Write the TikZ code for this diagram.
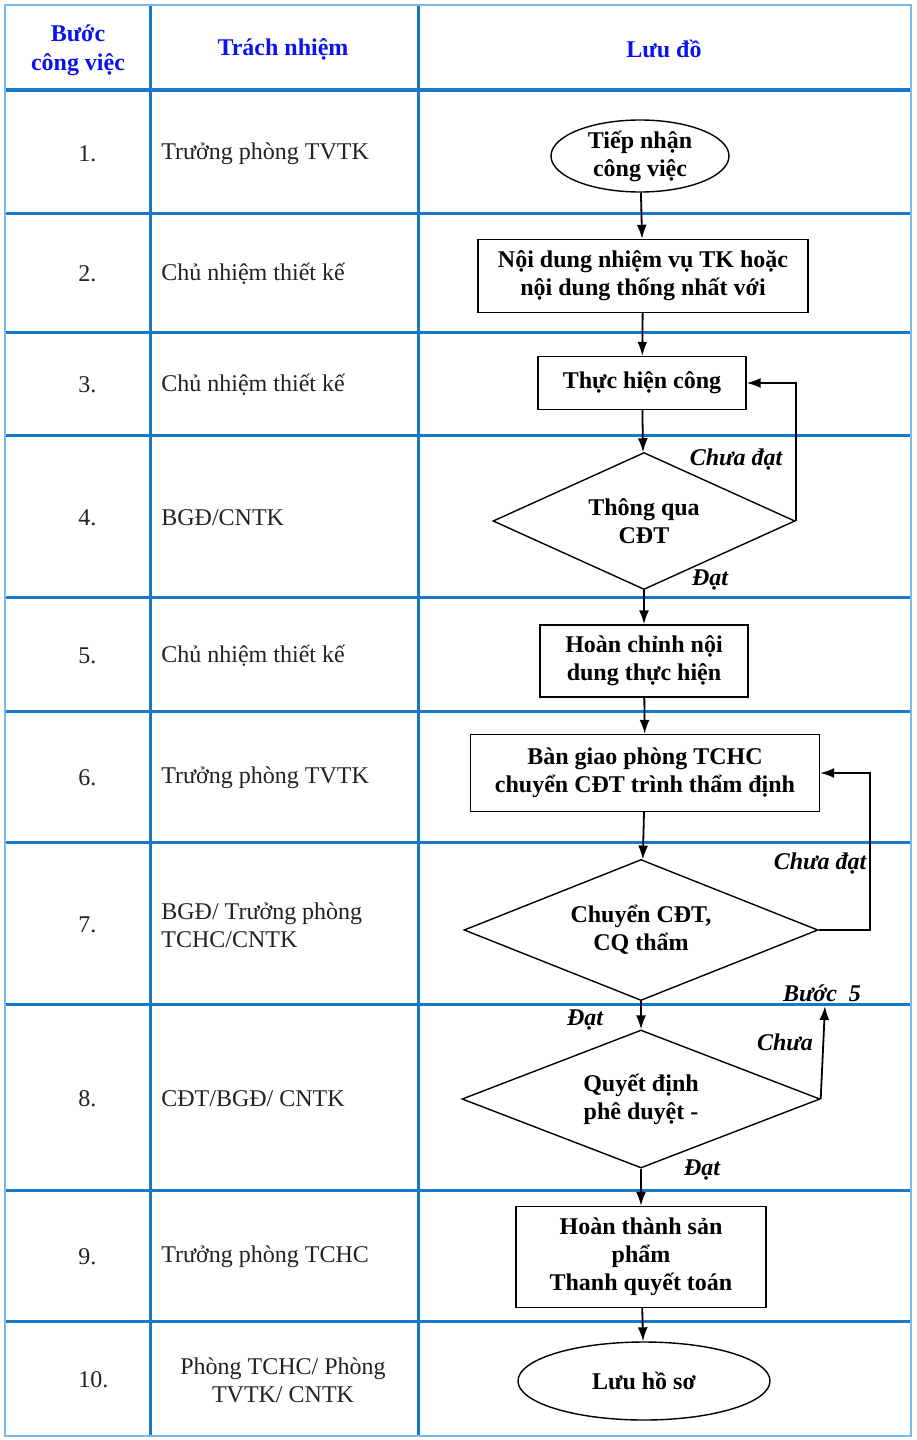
\documentclass[tikz,border=0pt]{standalone}
\usepackage{fontspec}
\setmainfont{Liberation Serif}
\usetikzlibrary{shapes.geometric,arrows.meta}
\definecolor{gridblue}{HTML}{1A78C8}
\definecolor{edgeblue}{HTML}{7DB9E8}
\definecolor{headblue}{HTML}{0A14F0}
\definecolor{bodygray}{HTML}{222222}

\begin{document}
\begin{tikzpicture}[x=0.5pt,y=-0.5pt,
        font=\fontsize{12}{14}\selectfont,
        grid/.style = {gridblue, line width=1.5pt},
        head/.style = {headblue, font=\fontsize{12}{14}\selectfont\bfseries, align=center},
        num/.style = {bodygray, anchor=west, inner sep=0pt},
        duty/.style = {bodygray, anchor=west, inner sep=0pt, align=left},
        box/.style = {draw, line width=0.7pt, inner sep=0pt, align=center, font=\fontsize{12}{14}\selectfont\bfseries},
        term/.style = {box, ellipse},
        proc/.style = {box, rectangle},
        decide/.style = {box, diamond, aspect=2.4},
        arr/.style = {-{Latex[length=7pt,width=5pt]}, line width=0.9pt},
        note/.style = {font=\fontsize{12}{14}\selectfont\bfseries\itshape, inner sep=0pt}]
        \useasboundingbox (0,0) rectangle (916,1440);
        \fill[white] (0,0) rectangle (916,1440);
        % table
        \draw[grid] (150,5) -- (150,1436);
        \draw[grid] (418,5) -- (418,1436);
        \draw[gridblue, line width=2pt] (5,90) -- (911,90);
        \foreach \y in {213,332,435,597,711,842,1004,1190,1321}
            \draw[grid] (5,\y) -- (911,\y);
        \draw[edgeblue, line width=1pt] (5,5) rectangle (911,1436);
        \node[head, font=\fontsize{12}{14.5}\selectfont\bfseries] (hstep) at (78,50) {Bước\\công việc};
        \node[head] (hduty) at (283,49) {Trách nhiệm};
        \node[head] (hflow) at (664,49) {Lưu đồ};
        \foreach \y [count=\i] in {154,274,385,518,656,778,925,1099,1257,1380}
            \node[num] (s\i) at (78,\y) {\i.};
        \node[duty] (d1) at (161,154) {Trưởng phòng TVTK};
        \node[duty] (d2) at (161,274) {Chủ nhiệm thiết kế};
        \node[duty] (d3) at (161,385) {Chủ nhiệm thiết kế};
        \node[duty] (d4) at (161,518) {BGĐ/CNTK};
        \node[duty] (d5) at (161,656) {Chủ nhiệm thiết kế};
        \node[duty] (d6) at (161,778) {Trưởng phòng TVTK};
        \node[duty] (d7) at (161,925) {BGĐ/ Trưởng phòng\\TCHC/CNTK};
        \node[duty] (d8) at (161,1099) {CĐT/BGĐ/ CNTK};
        \node[duty] (d9) at (161,1257) {Trưởng phòng TCHC};
        \node[bodygray, align=center, inner sep=0pt] (d10) at (283,1380) {Phòng TCHC/ Phòng\\TVTK/ CNTK};
        % flow chart
        \node[term, minimum width=89pt, minimum height=36pt] (n1) at (640,156) {Tiếp nhận\\công việc};
        \node[proc, minimum width=165pt, minimum height=36.5pt] (n2) at (643,276) {Nội dung nhiệm vụ TK hoặc\\nội dung thống nhất với};
        \node[proc, minimum width=104pt, minimum height=26.5pt] (n3) at (642,383) {Thực hiện công};
        \node[decide, minimum width=151pt, minimum height=68.5pt] (n4) at (644,521) {Thông qua\\CĐT};
        \node[proc, minimum width=104pt, minimum height=36pt] (n5) at (644,661) {Hoàn chỉnh nội\\dung thực hiện};
        \node[proc, minimum width=174.5pt, minimum height=38.5pt] (n6) at (645,773) {Bàn giao phòng TCHC\\chuyển CĐT trình thẩm định};
        \node[decide, minimum width=177pt, minimum height=70.5pt] (n7) at (641,930) {Chuyển CĐT,\\CQ thẩm};
        \node[decide, minimum width=179pt, minimum height=69pt] (n8) at (641,1099) {Quyết định\\phê duyệt -};
        \node[proc, minimum width=125pt, minimum height=50.5pt] (n9) at (641,1257) {Hoàn thành sản\\phẩm\\Thanh quyết toán};
        \node[term, minimum width=126pt, minimum height=39pt] (n10) at (644,1381) {Lưu hồ sơ};
        \draw[arr] (n1) -- (n2);
        \draw[arr] (n2) -- (n3);
        \draw[arr] (n3) -- (n4);
        \draw[arr] (n4) -- (n5);
        \draw[arr] (n5) -- (n6);
        \draw[arr] (n6) -- (n7);
        \draw[arr] (n7) -- (n8);
        \draw[arr] (n8) -- (n9);
        \draw[arr] (n9) -- (n10);
        \draw[arr] (n4.east) |- (n3.east);
        \coordinate (c7) at (870,930);
        \draw[arr] (n7.east) -- (c7) |- (n6.east);
        \coordinate (b5) at (825,1006);
        \draw[arr] (n8.east) -- (b5);
        \node[note] (l4a) at (736,460) {Chưa đạt};
        \node[note] (l4b) at (710,580) {Đạt};
        \node[note] (l7a) at (820,864) {Chưa đạt};
        \node[note] (l7b) at (585,1020) {Đạt};
        \node[note] (l8a) at (785,1042) {Chưa};
        \node[note] (l8b) at (702,1170) {Đạt};
        \node[note] (l8c) at (822,993) {Bước\ \ 5};
    \end{tikzpicture}
\end{document}
